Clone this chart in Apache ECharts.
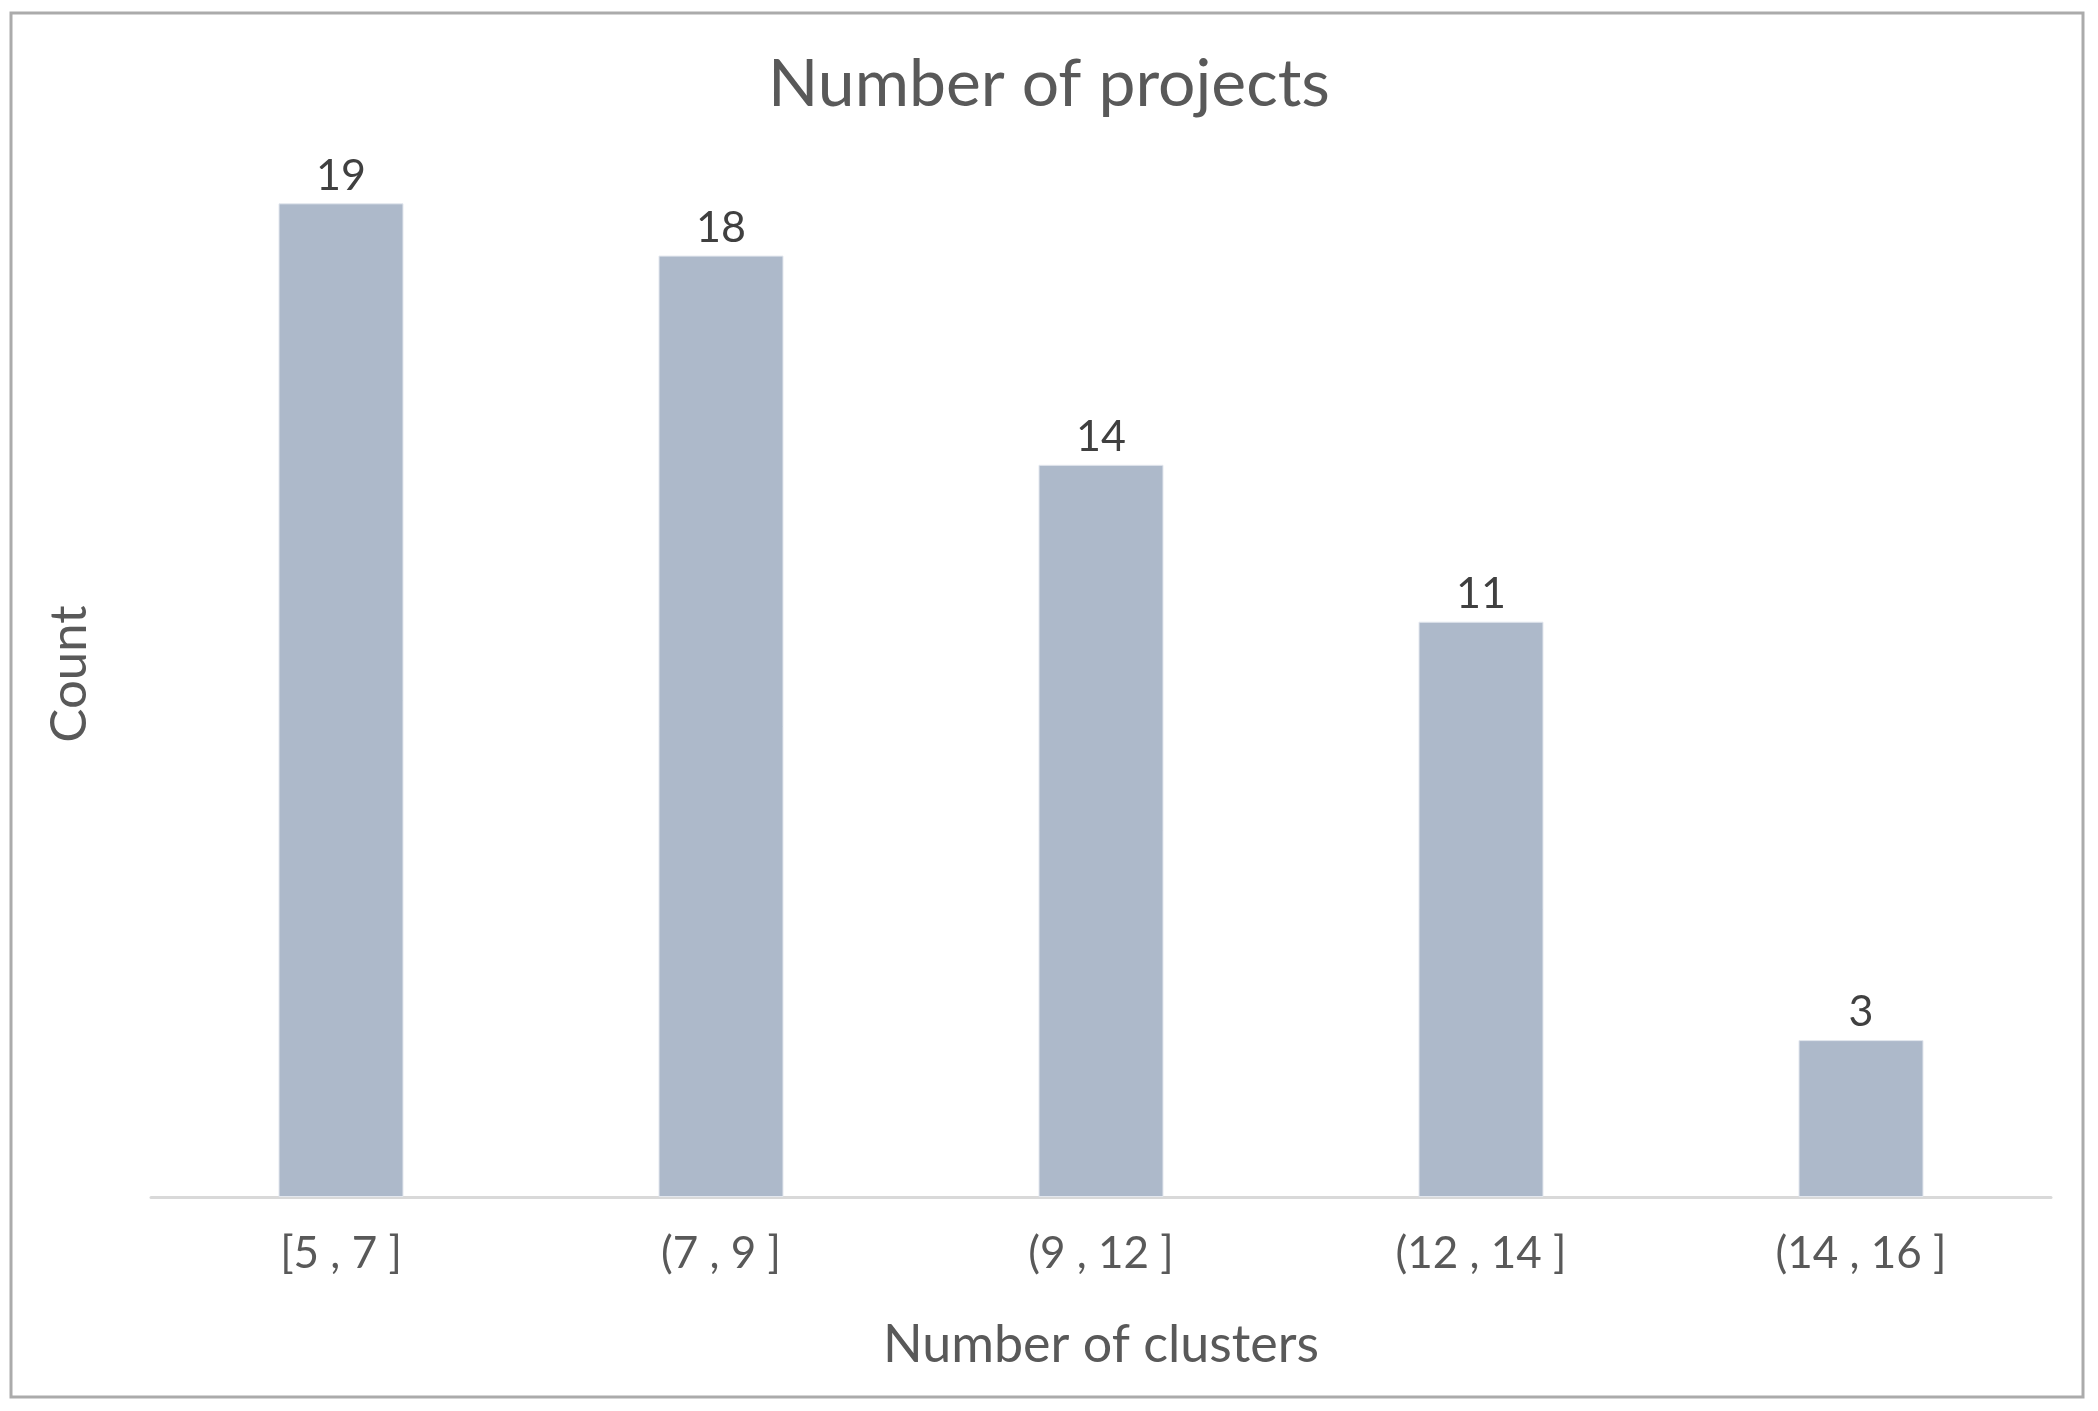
<!DOCTYPE html>
<html>
<head>
<meta charset="utf-8">
<script src="https://cdn.jsdelivr.net/npm/echarts@6/dist/echarts.min.js"></script>
<style>
html,body{margin:0;padding:0;background:#fff;}
#chart{width:2098px;height:1411px;}
</style>
</head>
<body>
<div id="chart"></div>
<script>
const titleText = 'Number of projects';
const categories = ['[5 , 7 ]', '(7 , 9 ]', '(9 , 12 ]', '(12 , 14 ]', '(14 , 16 ]'];
const counts = [19, 18, 14, 11, 3];
const xAxisName = 'Number of clusters';
const yAxisName = 'Count';

const FONT = 'Lato';
const chart = echarts.init(document.getElementById('chart'));
chart.setOption({
  backgroundColor: '#ffffff',
  animation: false,
  graphic: [{
    type: 'rect',
    shape: { x: 11, y: 13, width: 2072, height: 1384 },
    style: { fill: 'none', stroke: '#ababab', lineWidth: 3 },
    silent: true
  }],
  title: {
    text: titleText,
    left: 'center',
    top: 47,
    textStyle: { fontFamily: FONT, fontSize: 66, fontWeight: 'normal', color: '#595959' }
  },
  grid: { left: 151, right: 47, top: 151, bottom: 214, containLabel: false },
  xAxis: {
    type: 'category',
    data: categories,
    name: xAxisName,
    nameLocation: 'middle',
    nameGap: 122,
    nameTextStyle: { fontFamily: FONT, fontSize: 52, color: '#595959' },
    axisLine: { show: true, lineStyle: { color: '#d9d9d9', width: 3 } },
    axisTick: { show: false },
    axisLabel: { fontFamily: FONT, fontSize: 44, color: '#595959', margin: 35 }
  },
  yAxis: {
    type: 'value',
    min: 0,
    max: 20,
    interval: 5,
    name: yAxisName,
    nameLocation: 'middle',
    nameGap: 56,
    nameRotate: 90,
    nameTextStyle: { fontFamily: FONT, fontSize: 51, color: '#595959' },
    axisLine: { show: false },
    axisTick: { show: false },
    axisLabel: { show: false },
    splitLine: { show: false }
  },
  series: [{
    type: 'bar',
    data: counts,
    barWidth: 125,
    itemStyle: { color: '#adb9ca', borderColor: '#e3e7ee', borderWidth: 1 },
    label: {
      show: true,
      position: 'top',
      distance: 6,
      fontFamily: FONT,
      fontSize: 43,
      color: '#404040'
    }
  }]
});
</script>
</body>
</html>
